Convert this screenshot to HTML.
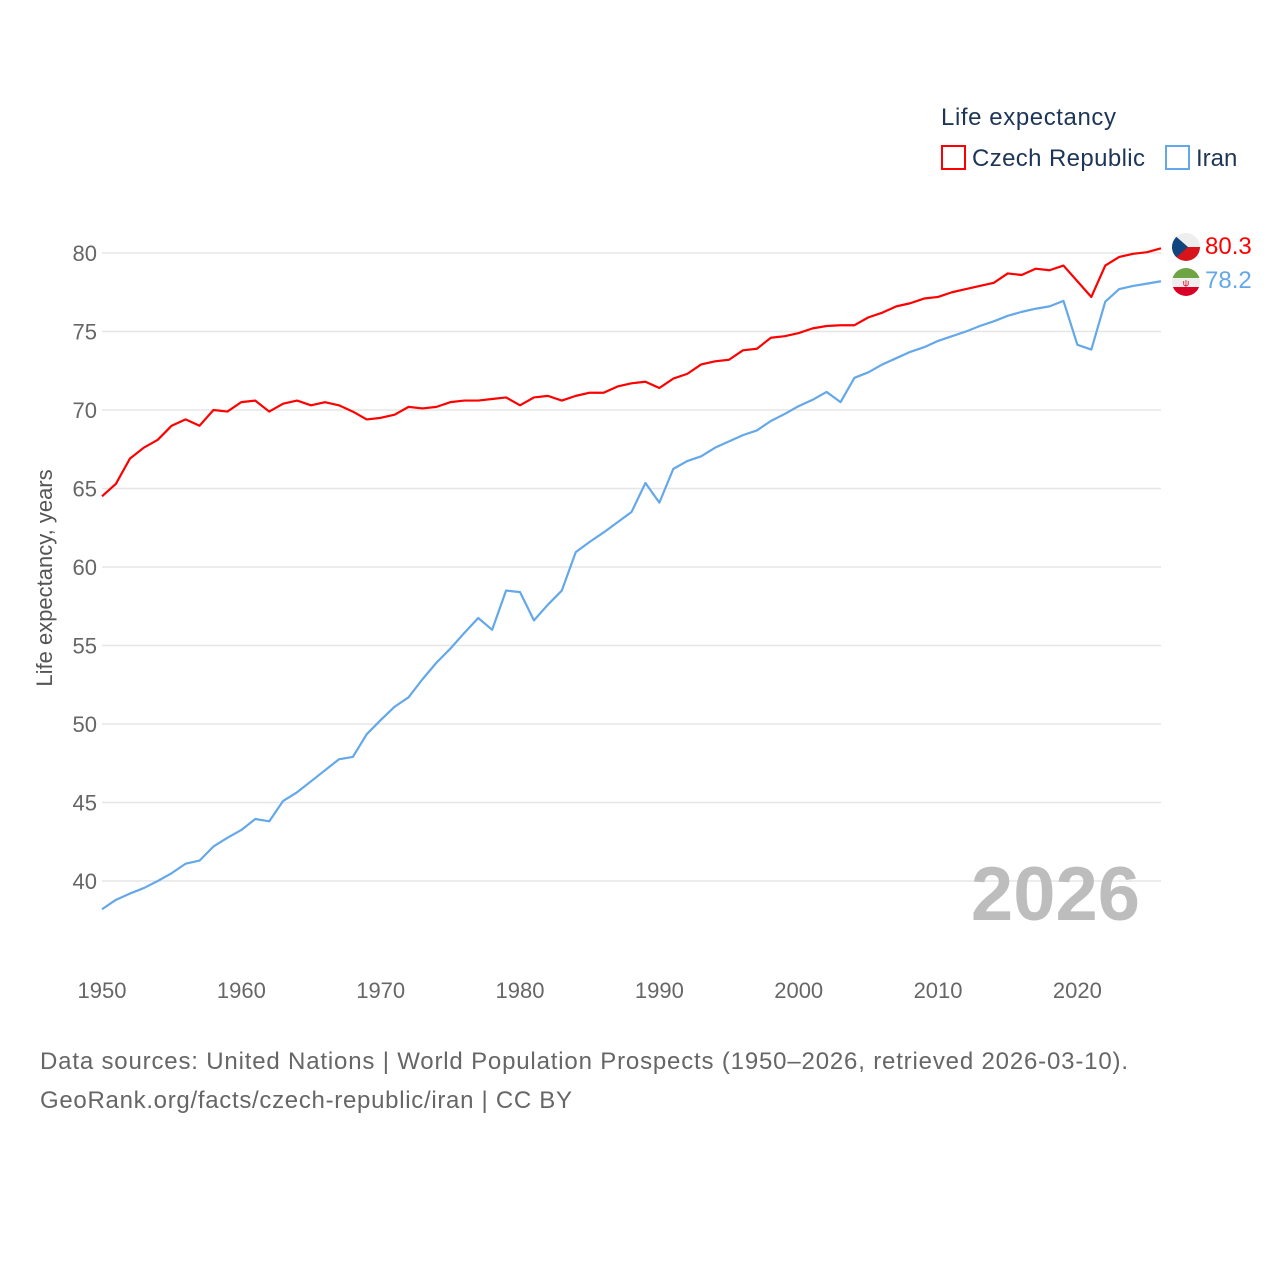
<!DOCTYPE html>
<html><head><meta charset="utf-8"><style>
body{margin:0;background:#fff;font-family:"Liberation Sans",sans-serif;}
svg text{font-family:"Liberation Sans",sans-serif;}
</style></head><body>
<svg id="chart" width="1280" height="1280" xmlns="http://www.w3.org/2000/svg">
<g id="grid"></g>
<g id="yticks"></g>
<g id="xticks"></g>
<text x="52" y="578" transform="rotate(-90 52 578)" text-anchor="middle" font-size="22" fill="#555">Life expectancy, years</text>
<text x="1140" y="920" text-anchor="end" font-size="76" font-weight="bold" fill="#bdbdbd">2026</text>
<g id="lines"></g>
<g>
<text x="941" y="125" font-size="24" fill="#1d3557" textLength="175">Life expectancy</text>
<g><rect x="942" y="146" width="23" height="23" fill="none" stroke="#f00" stroke-width="2"/><text x="972" y="166" font-size="24" fill="#1d3557" textLength="173">Czech Republic</text></g>
<g><rect x="1166" y="146" width="23" height="23" fill="none" stroke="#64a8ea" stroke-width="2"/><text x="1196" y="166" font-size="24" fill="#1d3557">Iran</text></g>
</g>
<g><clipPath id="c1"><circle cx="1186" cy="247" r="14"/></clipPath><g clip-path="url(#c1)"><rect x="1172" y="233" width="28" height="14" fill="#eee"/><rect x="1172" y="247" width="28" height="14" fill="#d7141a"/><polygon points="1172,233 1188,247 1172,261" fill="#11457e"/></g></g>
<g><clipPath id="c2"><circle cx="1186" cy="282" r="14"/></clipPath><g clip-path="url(#c2)"><rect x="1172" y="268" width="28" height="10" fill="#6da544"/><rect x="1172" y="278" width="28" height="9" fill="#eee"/><rect x="1172" y="287" width="28" height="10" fill="#d80027"/></g><text x="1186" y="286" text-anchor="middle" font-size="9" fill="#d80027">ψ</text></g>
<text x="1205" y="254" font-size="24" fill="#f00">80.3</text>
<text x="1205" y="288" font-size="24" fill="#64a8ea">78.2</text>
<text x="40" y="1069" font-size="24" fill="#666" textLength="1088">Data sources: United Nations | World Population Prospects (1950–2026, retrieved 2026-03-10).</text>
<text x="40" y="1108" font-size="24" fill="#666" textLength="532">GeoRank.org/facts/czech-republic/iran | CC BY</text>
</svg>
<script>
const years=[];for(let y=1950;y<=2026;y++)years.push(y);
const czech=[64.5,65.3,66.9,67.6,68.1,69.0,69.4,69.0,70.0,69.9,70.5,70.6,69.9,70.4,70.6,70.3,70.5,70.3,69.9,69.4,69.5,69.7,70.2,70.1,70.2,70.5,70.6,70.6,70.7,70.8,70.3,70.8,70.9,70.6,70.9,71.1,71.1,71.5,71.7,71.8,71.4,72.0,72.3,72.9,73.1,73.2,73.8,73.9,74.6,74.7,74.9,75.2,75.35,75.4,75.4,75.9,76.2,76.6,76.8,77.1,77.2,77.5,77.7,77.9,78.1,78.7,78.6,79.0,78.9,79.2,78.2,77.2,79.2,79.75,79.95,80.05,80.3];
const iran=[38.2,38.8,39.2,39.55,40.0,40.5,41.1,41.3,42.2,42.75,43.25,43.95,43.8,45.1,45.65,46.35,47.05,47.75,47.9,49.35,50.25,51.1,51.7,52.85,53.9,54.8,55.8,56.75,56.0,58.5,58.4,56.6,57.6,58.5,60.95,61.6,62.2,62.85,63.5,65.35,64.1,66.25,66.75,67.05,67.6,68.0,68.4,68.7,69.3,69.75,70.25,70.65,71.15,70.5,72.05,72.4,72.9,73.3,73.7,74.0,74.4,74.7,75.0,75.35,75.65,76.0,76.25,76.45,76.6,76.95,74.15,73.85,76.9,77.7,77.9,78.05,78.2];
const yTicks=[40,45,50,55,60,65,70,75,80];
const xTicks=[1950,1960,1970,1980,1990,2000,2010,2020];
const X=y=>102+(y-1950)*(1161-102)/76;
const Y=v=>253+(80-v)*15.7;
const NS="http://www.w3.org/2000/svg";
const mk=(t,a,p)=>{const e=document.createElementNS(NS,t);for(const k in a)e.setAttribute(k,a[k]);p.appendChild(e);return e;};
const g=document.getElementById('grid'),yt=document.getElementById('yticks'),xt=document.getElementById('xticks'),L=document.getElementById('lines');
yTicks.forEach(v=>{
 const l=mk('line',{x1:102,x2:1161,y1:Y(v),y2:Y(v),stroke:'#e6e6e6','stroke-width':1.5},g);
 
 
 const t=mk('text',{x:97,y:Y(v)+8,'text-anchor':'end','font-size':22,fill:'#666'},yt);t.textContent=v;
 
 
});
xTicks.forEach(v=>{
 const t=mk('text',{x:X(v),y:998,'text-anchor':'middle','font-size':22,fill:'#666'},xt);t.textContent=v;
 
 
});
function line(d,c,n){
 const p=mk('polyline',{points:d.map((v,i)=>X(years[i])+','+Y(v)).join(' '),fill:'none',stroke:c,'stroke-width':2.2,'stroke-linejoin':'round'},L);
 
 
}
line(iran,'#64a8ea','iran-line');
line(czech,'#ff0000','czech-line');
</script>
</body></html>
